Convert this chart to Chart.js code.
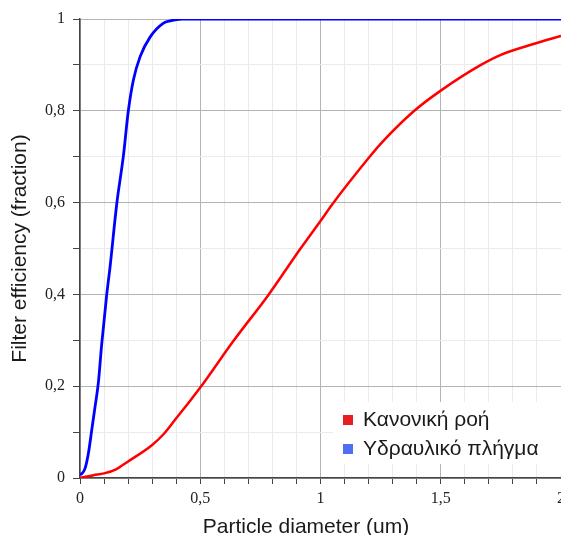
<!DOCTYPE html>
<html><head><meta charset="utf-8">
<script src="https://cdn.jsdelivr.net/npm/chart.js@4.4.1/dist/chart.umd.min.js"></script>
<style>html,body{margin:0;padding:0;background:#fff;overflow:hidden}#wrap{width:561px;height:535px}</style>
</head><body><div id="wrap"><canvas id="c" width="561" height="535"></canvas></div>
<script>
// ---- data ----
const seriesNames = ['Κανονική ροή', 'Υδραυλικό πλήγμα'];
const xAxisTitle = 'Particle diameter (um)';
const yAxisTitle = 'Filter efficiency (fraction)';
const normalX = [0, 0.056, 0.1, 0.15, 0.2, 0.3, 0.35, 0.4, 0.45, 0.5, 0.64, 0.785, 0.917, 1.0, 1.05, 1.2, 1.25, 1.39, 1.5, 1.667, 1.75, 1.889, 2.0];
const normalY = [0, 0.006, 0.01, 0.019, 0.036, 0.072, 0.097, 0.13, 0.163, 0.197, 0.3, 0.4, 0.5, 0.56, 0.597, 0.697, 0.728, 0.8, 0.844, 0.9, 0.922, 0.946, 0.963];
const hammerX = [0, 0.007, 0.021, 0.035, 0.049, 0.0625, 0.076, 0.09, 0.111, 0.125, 0.153, 0.18, 0.201, 0.222, 0.25, 0.292, 0.347, 0.375, 0.424, 2.0];
const hammerY = [0.008, 0.009, 0.021, 0.054, 0.105, 0.155, 0.206, 0.29, 0.399, 0.46, 0.598, 0.70, 0.80, 0.867, 0.918, 0.961, 0.991, 0.996, 1.0, 1.0];
const xMajorTicks = [0, 0.5, 1, 1.5, 2];
const yMajorTicks = [0, 0.2, 0.4, 0.6, 0.8, 1];

const lineColors = ['#ff0000', '#0000ff'];
const legendColors = ['#ea1d25', '#4f6ff0'];

function pts(xs, ys) { return xs.map((x, i) => ({x: x, y: ys[i]})); }
function isMajor(v, list) { return list.some(m => Math.abs(m - v) < 1e-6); }
function fmt(v) { return String(Math.round(v * 10) / 10).replace('.', ','); }

const legendPlugin = {
  id: 'insideLegend',
  afterDatasetsDraw(chart) {
    const ctx = chart.ctx;
    ctx.save();
    ctx.fillStyle = '#ffffff';
    ctx.fillRect(333, 402, 228, 62);
    ctx.font = '21px "Liberation Sans", Arial, sans-serif';
    ctx.textBaseline = 'middle';
    ctx.textAlign = 'left';
    chart.data.datasets.forEach((ds, i) => {
      const cy = 420 + i * 29;
      ctx.fillStyle = legendColors[i];
      ctx.fillRect(343, cy - 5, 10, 10);
      ctx.fillStyle = '#1a1a1a';
      ctx.fillText(ds.label, 363, cy);
    });
    // x axis title (slightly left of the plot centre, as in the original)
    ctx.textAlign = 'center';
    ctx.fillText(xAxisTitle, 306, 527);
    ctx.restore();
  }
};

new Chart(document.getElementById('c'), {
  type: 'line',
  data: {
    datasets: [
      {label: seriesNames[0], data: pts(normalX, normalY), borderColor: lineColors[0], backgroundColor: lineColors[0], borderWidth: 2.5, pointRadius: 0, cubicInterpolationMode: 'monotone', fill: false},
      {label: seriesNames[1], data: pts(hammerX, hammerY), borderColor: lineColors[1], backgroundColor: lineColors[1], borderWidth: 2.8, pointRadius: 0, cubicInterpolationMode: 'monotone', fill: false}
    ]
  },
  options: {
    responsive: false,
    animation: false,
    devicePixelRatio: 1,
    layout: {padding: {top: 19, right: 0, left: 0, bottom: 0}},
    plugins: {legend: {display: false}, tooltip: {enabled: false}},
    scales: {
      x: {
        type: 'linear', min: 0, max: 2,
        afterFit(s) { s.height = 57; s.paddingLeft = 0; s.paddingRight = 0; },
        ticks: {stepSize: 0.1, autoSkip: false, maxRotation: 0, padding: 5, color: '#222',
          font: {family: '"Liberation Serif", "Times New Roman", serif', size: 16},
          callback: v => isMajor(v, xMajorTicks) ? fmt(v) : ''},
        grid: {color: c => (c.tick && isMajor(c.tick.value, xMajorTicks)) ? '#b4b4b4' : '#ebebeb', tickColor: '#444', tickLength: 6, lineWidth: 1},
        border: {color: '#444', width: 1.5},
        title: {display: false, text: xAxisTitle}
      },
      y: {
        type: 'linear', min: 0, max: 1,
        afterFit(s) { s.width = 80; s.paddingTop = 0; s.paddingBottom = 0; },
        ticks: {stepSize: 0.1, autoSkip: false, padding: 8, color: '#222',
          font: {family: '"Liberation Serif", "Times New Roman", serif', size: 16},
          callback: v => isMajor(v, yMajorTicks) ? fmt(v) : ''},
        grid: {color: c => (c.tick && isMajor(c.tick.value, yMajorTicks)) ? '#b4b4b4' : '#ebebeb', tickColor: '#444', tickLength: 7, lineWidth: 1},
        border: {color: '#444', width: 1.5},
        title: {display: true, text: yAxisTitle, color: '#1a1a1a', padding: {top: 8, bottom: 0},
          font: {family: '"Liberation Sans", Arial, sans-serif', size: 21}}
      }
    }
  },
  plugins: [legendPlugin]
});
</script></body></html>
